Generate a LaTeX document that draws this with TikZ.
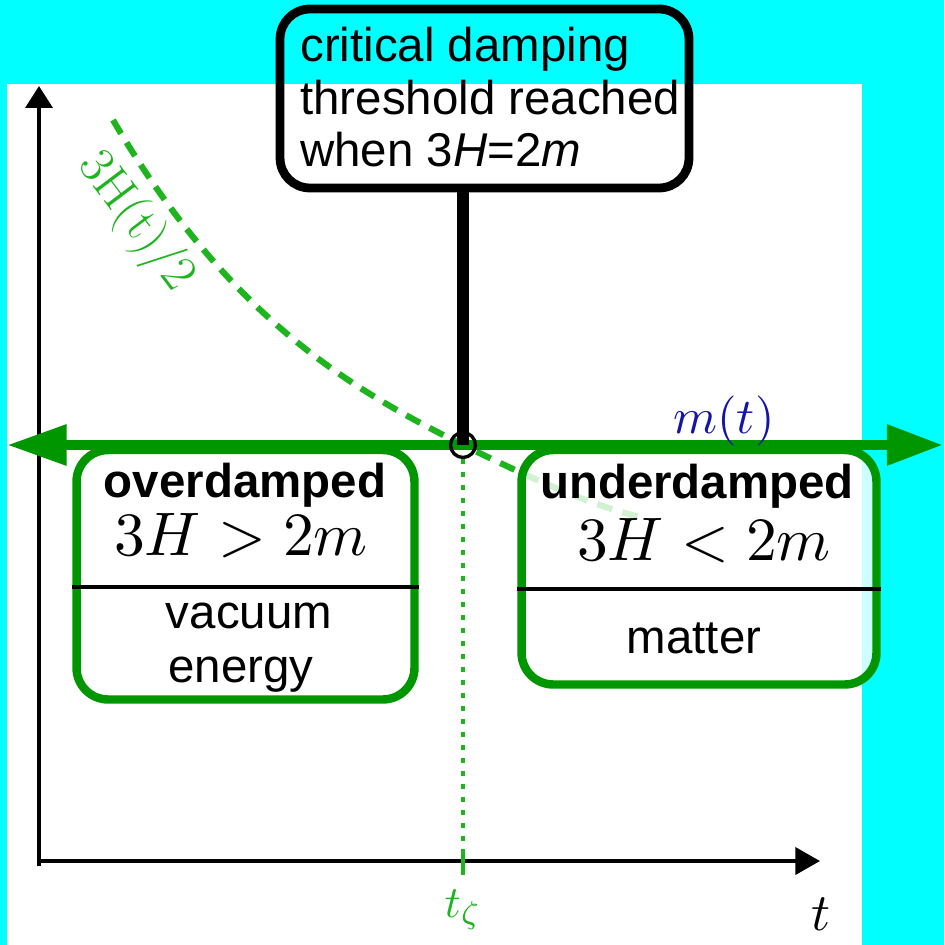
\documentclass[tikz,border=0pt]{standalone}
\usepackage{fontspec}
\newfontfamily\arialf{Liberation Sans}
\usetikzlibrary{arrows.meta}
\definecolor{cyanbg}{RGB}{0,255,255}
\definecolor{dgreen}{RGB}{0,150,0}
\definecolor{lgreen}{RGB}{30,180,30}
\definecolor{mblue}{RGB}{20,20,170}
\tikzset{
  yaxisline/.style={line width=2.2pt, -{Triangle[length=12.5pt,width=15.3pt]}},
  xaxisline/.style={line width=2.2pt, -{Triangle[length=14pt,width=15.3pt]}},
  stext/.style={font=\arialf\fontsize{27pt}{30pt}\selectfont, inner sep=0pt, anchor=base},
  btext/.style={font=\arialf\bfseries\fontsize{27pt}{30pt}\selectfont, inner sep=0pt, anchor=base},
  mtext/.style={font=\fontsize{10pt}{12pt}\selectfont, scale=3.5, inner sep=0pt, anchor=base},
  gbox/.style={draw=dgreen, line width=4.8pt, rounded corners=18pt, inner sep=0pt},
  cbox/.style={draw=black, line width=5pt, rounded corners=17pt, inner sep=0pt},
  divider/.style={draw=black, line width=2.1pt},
  mline/.style={draw=dgreen, line width=6pt, {Triangle[length=34pt,width=22pt]}-{Triangle[length=32pt,width=22pt]}},
  stem/.style={draw=black, line width=6.4pt},
  dcurve/.style={draw=lgreen, line width=3.5pt, dash pattern=on 9pt off 6pt},
  dotline/.style={draw=lgreen, line width=2.2pt, dash pattern=on 2.8pt off 4.6pt},
}
\begin{document}
\begin{tikzpicture}[x=0.02cm,y=-0.02cm]
% background
\fill[cyanbg] (0,0) rectangle (944,945);
\fill[white] (7,84) rectangle (862,945);
\useasboundingbox (0,0) rectangle (944,945);

% axes
\coordinate (ybot) at (39,866);
\coordinate (ytop) at (39,86);
\coordinate (xl) at (37,861);
\coordinate (xr) at (820,861);
\draw[yaxisline] (ybot) -- (ytop);
\draw[xaxisline] (xl) -- (xr);
\node[font=\fontsize{10pt}{12pt}\selectfont, scale=3, inner sep=0pt, anchor=base west] (tlab) at (810,930) {$t$};

% dashed curve 3H/2
\coordinate (cs) at (113,120);
\coordinate (ce) at (640,517);
\coordinate (cm) at (463,445);
\draw[dcurve] (cs) .. controls (230,320) and (353,390) .. (cm) .. controls (530,478) and (590,505) .. (ce);
\node[text=lgreen, font=\fontsize{29pt}{32pt}\selectfont, inner sep=0pt, rotate=-53] (hlab) at (136,222) {3H(t)/2};

% regime boxes
\node[gbox, fill=white, minimum width=6.76cm, minimum height=4.99cm] (od) at (245.5,574.75) {};
\node[gbox, fill=white, fill opacity=0.8, minimum width=7.1cm, minimum height=4.69cm] (ud) at (699,567.25) {};
\coordinate (odd) at (0,587);
\coordinate (udd) at (0,589);
\draw[divider] (od.west |- odd) -- (od.east |- odd);
\draw[divider] (ud.west |- udd) -- (ud.east |- udd);

\node[btext] (odt) at (245,497) {overdamped};
\node[mtext] (odm) at (241,555) {$3H>2m$};
\node[stext] (odv) at (249,628) {vacuum};
\node[stext] (ode) at (241,682) {energy};

\node[btext] (udt) at (697,498) {underdamped};
\node[mtext] (udm) at (704,560) {$3H<2m$};
\node[stext] (udv) at (694,653) {matter};

% m(t) line
\coordinate (ml) at (7,445);
\coordinate (mr) at (943,445);
\draw[mline] (ml) -- (mr);
\node[text=mblue, font=\fontsize{10pt}{12pt}\selectfont, scale=2.85, inner sep=0pt, anchor=base] (mlab) at (724,433) {$m(t)$};

% critical point
\node[cbox, minimum width=8.18cm, minimum height=3.58cm] (crit) at (484.5,98.5) {};
\node[stext, anchor=base west] (c1) at (300,62) {critical damping};
\node[stext, anchor=base west] (c2) at (300,115) {threshold reached};
\node[stext, anchor=base west] (c3) at (300,167) {when 3\textit{H}=2\textit{m}};
\node[circle, draw=black, line width=1.9pt, minimum size=14.2pt, inner sep=0pt] (cross) at (463,445) {};
\draw[stem] (cross |- crit.south) -- (cross.center);

% t_zeta marker
\coordinate (tz1) at (463,852);
\coordinate (tz2) at (463,875);
\draw[dotline] (cross.south) -- (tz1);
\draw[draw=lgreen, line width=2.2pt] (tz1) -- (tz2);
\node[text=lgreen, font=\fontsize{10pt}{12pt}\selectfont, scale=2.55, inner sep=0pt, anchor=base] (tzlab) at (463,917) {$t_\zeta$};
\end{tikzpicture}
\end{document}
